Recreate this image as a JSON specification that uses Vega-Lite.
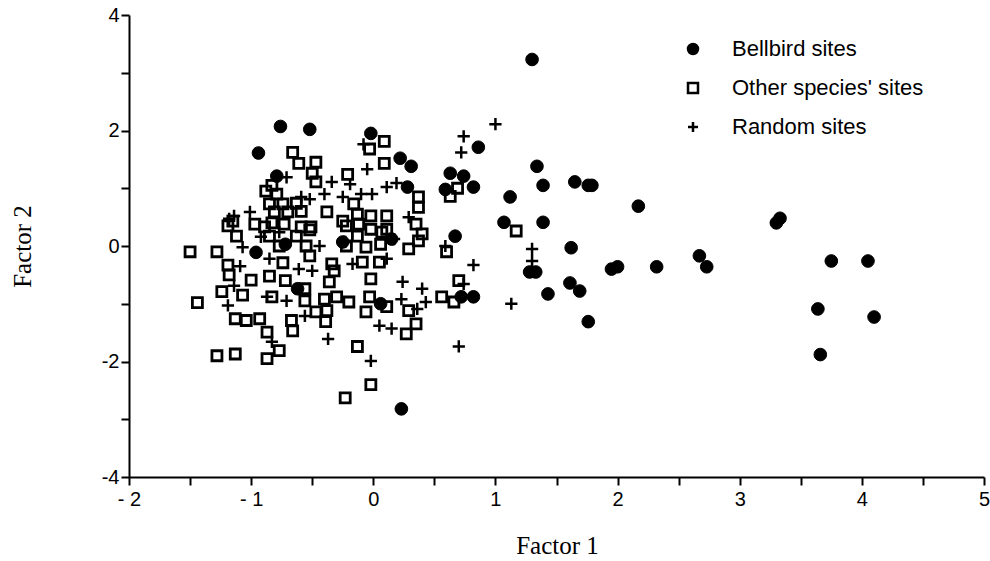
{
  "$schema": "https://vega.github.io/schema/vega-lite/v6.json",
  "width": 855,
  "height": 462,
  "autosize": {"type": "none"},
  "padding": {"left": 129, "top": 15, "right": 6, "bottom": 84},
  "background": "white",
  "config": {
    "view": {"stroke": null},
    "axis": {
      "grid": false,
      "domainColor": "black",
      "domainWidth": 2,
      "tickColor": "black",
      "tickWidth": 2,
      "tickSize": 8,
      "labelFont": "Liberation Sans",
      "labelFontSize": 20,
      "labelColor": "black",
      "titleFont": "Liberation Serif",
      "titleFontSize": 25,
      "titleFontWeight": "normal",
      "titleColor": "black"
    },
    "legend": {
      "title": null,
      "orient": "none",
      "legendX": 553,
      "legendY": 23,
      "padding": 0,
      "labelFont": "Liberation Sans",
      "labelFontSize": 22,
      "labelColor": "black",
      "labelLimit": 0,
      "labelOffset": 28,
      "rowPadding": 17,
      "symbolStrokeWidth": 2.5,
      "symbolOpacity": 1
    }
  },
  "datasets": {
    "bell": [
      {"x": -0.94, "y": 1.61}, {"x": -0.76, "y": 2.07}, {"x": -0.52, "y": 2.02}, {"x": -0.79, "y": 1.21},
      {"x": -0.02, "y": 1.95}, {"x": 0.22, "y": 1.52}, {"x": 0.31, "y": 1.38}, {"x": 0.63, "y": 1.26},
      {"x": 0.74, "y": 1.21}, {"x": 0.59, "y": 0.98}, {"x": 0.82, "y": 1.02}, {"x": 0.86, "y": 1.71},
      {"x": 0.28, "y": 1.02}, {"x": 1.12, "y": 0.85}, {"x": 1.07, "y": 0.41}, {"x": 0.15, "y": 0.12},
      {"x": 0.67, "y": 0.17}, {"x": 1.30, "y": 3.23}, {"x": 1.34, "y": 1.38}, {"x": 1.39, "y": 1.05},
      {"x": 1.65, "y": 1.11}, {"x": 1.76, "y": 1.05}, {"x": 1.79, "y": 1.05}, {"x": 2.17, "y": 0.69},
      {"x": 1.39, "y": 0.41}, {"x": 1.62, "y": -0.03}, {"x": 1.28, "y": -0.45}, {"x": 1.33, "y": -0.45},
      {"x": 1.95, "y": -0.40}, {"x": 2.00, "y": -0.36}, {"x": 2.32, "y": -0.36}, {"x": 2.67, "y": -0.17},
      {"x": 2.73, "y": -0.36}, {"x": 1.61, "y": -0.64}, {"x": 1.69, "y": -0.78}, {"x": 1.43, "y": -0.83},
      {"x": 3.30, "y": 0.40}, {"x": 3.33, "y": 0.48}, {"x": 3.75, "y": -0.26}, {"x": 4.05, "y": -0.26},
      {"x": 3.64, "y": -1.09}, {"x": 4.10, "y": -1.23}, {"x": 3.66, "y": -1.88}, {"x": 1.76, "y": -1.31},
      {"x": 0.72, "y": -0.88}, {"x": 0.82, "y": -0.88}, {"x": 0.06, "y": -1.00}, {"x": 0.23, "y": -2.82},
      {"x": -0.96, "y": -0.11}, {"x": -0.62, "y": -0.74}, {"x": -0.25, "y": 0.07}, {"x": -0.72, "y": 0.03}
    ],
    "other": [
      {"x": -0.66, "y": 1.62}, {"x": -0.61, "y": 1.43}, {"x": -0.47, "y": 1.45}, {"x": -0.50, "y": 1.26},
      {"x": -0.47, "y": 1.11}, {"x": -0.21, "y": 1.24}, {"x": 0.09, "y": 1.81}, {"x": 0.09, "y": 1.43},
      {"x": -0.03, "y": 1.68}, {"x": -0.83, "y": 1.05}, {"x": -0.88, "y": 0.95}, {"x": -0.79, "y": 0.90},
      {"x": 0.37, "y": 0.85}, {"x": 0.37, "y": 0.67}, {"x": 0.69, "y": 1.00}, {"x": 0.63, "y": 0.86},
      {"x": 1.17, "y": 0.26}, {"x": -0.63, "y": 0.74}, {"x": -0.85, "y": 0.73}, {"x": -0.74, "y": 0.73},
      {"x": -0.16, "y": 0.73}, {"x": -0.81, "y": 0.59}, {"x": -0.70, "y": 0.59}, {"x": -0.59, "y": 0.60},
      {"x": -0.38, "y": 0.59}, {"x": -0.13, "y": 0.55}, {"x": -0.02, "y": 0.52}, {"x": 0.11, "y": 0.52},
      {"x": -0.25, "y": 0.43}, {"x": -1.15, "y": 0.43}, {"x": -1.19, "y": 0.35}, {"x": -0.97, "y": 0.38},
      {"x": -0.89, "y": 0.33}, {"x": -0.83, "y": 0.40}, {"x": -0.73, "y": 0.38}, {"x": -0.59, "y": 0.33},
      {"x": -0.51, "y": 0.33}, {"x": -0.22, "y": 0.35}, {"x": -0.12, "y": 0.38}, {"x": -0.02, "y": 0.29},
      {"x": 0.11, "y": 0.29}, {"x": 0.35, "y": 0.38}, {"x": 0.40, "y": 0.21}, {"x": -1.12, "y": 0.17},
      {"x": -0.85, "y": 0.17}, {"x": -0.63, "y": 0.17}, {"x": -0.52, "y": 0.28}, {"x": -0.13, "y": 0.17},
      {"x": 0.07, "y": 0.24}, {"x": -0.77, "y": 0.00}, {"x": -0.55, "y": 0.00}, {"x": -0.22, "y": 0.00},
      {"x": -0.06, "y": -0.02}, {"x": 0.06, "y": 0.03}, {"x": 0.29, "y": -0.05}, {"x": 0.60, "y": -0.10},
      {"x": -0.52, "y": -0.17}, {"x": -1.50, "y": -0.10}, {"x": -1.28, "y": -0.10}, {"x": -1.19, "y": -0.33},
      {"x": -1.18, "y": -0.50}, {"x": -1.00, "y": -0.59}, {"x": -0.85, "y": -0.52}, {"x": -0.74, "y": -0.29},
      {"x": -0.34, "y": -0.31}, {"x": -0.09, "y": -0.28}, {"x": 0.05, "y": -0.28}, {"x": -0.32, "y": -0.43},
      {"x": -0.02, "y": -0.57}, {"x": -0.36, "y": -0.62}, {"x": -0.72, "y": -0.60}, {"x": -1.24, "y": -0.79},
      {"x": -1.07, "y": -0.85}, {"x": -1.44, "y": -0.98}, {"x": -0.83, "y": -0.88}, {"x": -0.56, "y": -0.74},
      {"x": -0.56, "y": -0.95}, {"x": -0.40, "y": -0.92}, {"x": -0.30, "y": -0.88}, {"x": -0.20, "y": -0.97},
      {"x": -0.03, "y": -0.88}, {"x": 0.11, "y": -1.05}, {"x": -0.06, "y": -1.14}, {"x": -0.38, "y": -1.12},
      {"x": -0.47, "y": -1.14}, {"x": -1.13, "y": -1.26}, {"x": -1.04, "y": -1.29}, {"x": -0.93, "y": -1.26},
      {"x": -0.67, "y": -1.29}, {"x": -0.66, "y": -1.47}, {"x": -0.39, "y": -1.31}, {"x": -0.87, "y": -1.49},
      {"x": -0.77, "y": -1.81}, {"x": -0.87, "y": -1.95}, {"x": -1.28, "y": -1.90}, {"x": -1.13, "y": -1.87},
      {"x": -0.13, "y": -1.74}, {"x": -0.02, "y": -2.40}, {"x": -0.23, "y": -2.63}, {"x": 0.70, "y": -0.60},
      {"x": 0.56, "y": -0.88}, {"x": 0.66, "y": -0.97}, {"x": 0.29, "y": -1.12}, {"x": 0.35, "y": -1.35},
      {"x": 0.27, "y": -1.52}, {"x": 0.37, "y": 0.09}
    ],
    "random": [
      {"x": 1.00, "y": 2.11}, {"x": 0.74, "y": 1.90}, {"x": 0.72, "y": 1.62}, {"x": 0.82, "y": -0.33},
      {"x": 1.30, "y": -0.05}, {"x": 1.30, "y": -0.26}, {"x": -0.08, "y": 1.76}, {"x": -0.05, "y": 1.33},
      {"x": -0.25, "y": 0.85}, {"x": -0.10, "y": 0.90}, {"x": -0.01, "y": 0.90}, {"x": 0.11, "y": 1.02},
      {"x": 0.19, "y": 1.09}, {"x": 0.59, "y": 0.00}, {"x": 0.24, "y": -0.62}, {"x": 0.40, "y": -0.74},
      {"x": 0.23, "y": -0.92}, {"x": 0.43, "y": -0.97}, {"x": 0.36, "y": -1.09}, {"x": 0.05, "y": -1.38},
      {"x": 0.15, "y": -1.43}, {"x": 0.70, "y": -1.74}, {"x": -0.02, "y": -1.99}, {"x": 1.13, "y": -1.00},
      {"x": 0.74, "y": -0.66}, {"x": -1.07, "y": -0.02}, {"x": -1.09, "y": -0.35}, {"x": -0.85, "y": -0.22},
      {"x": -1.14, "y": -0.69}, {"x": -1.19, "y": -1.03}, {"x": -0.87, "y": -0.88}, {"x": -0.71, "y": -0.95},
      {"x": -0.50, "y": -0.43}, {"x": -0.56, "y": -1.21}, {"x": -0.37, "y": -1.61}, {"x": -0.83, "y": -1.66},
      {"x": -0.34, "y": 1.11}, {"x": -0.40, "y": 0.90}, {"x": -0.71, "y": 1.19}, {"x": -1.01, "y": 0.59},
      {"x": -1.18, "y": 0.47}, {"x": -0.59, "y": 0.85}, {"x": -0.92, "y": 0.16}, {"x": -1.14, "y": 0.52},
      {"x": -0.23, "y": 0.07}, {"x": 0.17, "y": 0.12}, {"x": 0.11, "y": -0.22}, {"x": -0.44, "y": 0.00},
      {"x": -0.61, "y": -0.40}, {"x": -0.17, "y": -0.31}, {"x": 0.29, "y": 0.50}, {"x": -0.19, "y": 1.07},
      {"x": -0.52, "y": 0.81}, {"x": -0.77, "y": 0.24}
    ]
  },
  "encoding": {
    "x": {
      "field": "x", "type": "quantitative",
      "scale": {"domain": [-2, 5], "nice": false, "zero": false},
      "axis": {
        "title": "Factor 1",
        "values": [-2, -1.5, -1, -0.5, 0, 0.5, 1, 1.5, 2, 2.5, 3, 3.5, 4, 4.5, 5],
        "labelExpr": "datum.value % 1 != 0 ? '' : (datum.value < 0 ? '- ' + abs(datum.value) : '' + datum.value)",
        "labelPadding": 4,
        "labelFlush": false,
        "labelOverlap": false,
        "titleX": 428,
        "titleY": 68,
        "titleBaseline": "middle",
        "titleAlign": "center"
      }
    },
    "y": {
      "field": "y", "type": "quantitative",
      "scale": {"domain": [-4, 4], "nice": false, "zero": false},
      "axis": {
        "title": "Factor 2",
        "values": [-4, -3, -2, -1, 0, 1, 2, 3, 4],
        "labelExpr": "datum.value % 2 != 0 ? '' : (datum.value < 0 ? '-' + abs(datum.value) : '' + datum.value)",
        "labelPadding": 2,
        "labelFlush": false,
        "labelOverlap": false,
        "titleX": -107,
        "titleY": 231,
        "titleAngle": -90,
        "titleBaseline": "middle",
        "titleAlign": "center"
      }
    },
    "shape": {
      "field": "group", "type": "nominal",
      "scale": {
        "domain": ["Bellbird sites", "Other species' sites", "Random sites"],
        "range": ["circle", "square", "M-1,0H1M0,-1V1"]
      },
      "legend": {
        "encode": {
          "symbols": {
            "update": {
              "size": {"signal": "datum.value === \"Other species' sites\" ? 60 : (datum.value === \"Bellbird sites\" ? 110 : 120)"},
              "strokeWidth": {"value": 2.5},
              "opacity": {"value": 1}
            }
          }
        }
      }
    },
    "fill": {
      "field": "group", "type": "nominal",
      "scale": {
        "domain": ["Bellbird sites", "Other species' sites", "Random sites"],
        "range": ["black", "transparent", "transparent"]
      }
    },
    "stroke": {
      "field": "group", "type": "nominal",
      "scale": {
        "domain": ["Bellbird sites", "Other species' sites", "Random sites"],
        "range": ["black", "black", "black"]
      }
    }
  },
  "layer": [
    {
      "data": {"name": "other"},
      "mark": {"type": "point", "strokeWidth": 2.8, "size": 100, "opacity": 1},
      "encoding": {
        "shape": {"datum": "Other species' sites"},
        "fill": {"datum": "Other species' sites"},
        "stroke": {"datum": "Other species' sites"}
      }
    },
    {
      "data": {"name": "random"},
      "mark": {"type": "point", "strokeWidth": 2.5, "size": 150, "opacity": 1},
      "encoding": {
        "shape": {"datum": "Random sites"},
        "fill": {"datum": "Random sites"},
        "stroke": {"datum": "Random sites"}
      }
    },
    {
      "data": {"name": "bell"},
      "mark": {"type": "point", "strokeWidth": 1, "size": 160, "opacity": 1},
      "encoding": {
        "shape": {"datum": "Bellbird sites"},
        "fill": {"datum": "Bellbird sites"},
        "stroke": {"datum": "Bellbird sites"}
      }
    }
  ]
}
